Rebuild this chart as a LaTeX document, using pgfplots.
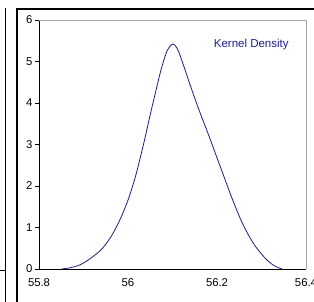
\documentclass[border=0pt]{standalone}
\usepackage{fontspec}
\setmainfont{Liberation Sans}
\usepackage{pgfplots}
\pgfplotsset{compat=1.18}
\definecolor{curveblue}{RGB}{28,28,150}
\definecolor{axgrey}{RGB}{165,165,165}
\begin{document}
\begin{tikzpicture}[x=1pt,y=1pt]
% fragments of neighbouring panel and outer frame
\draw[black, line width=1pt] (5,0) -- (5,294);
\draw[black, line width=0.8pt] (0,32) -- (5,32);
\draw[black, line width=1.4pt] (17,0) -- (17,293) -- (314,293);
\begin{axis}[
  at={(39pt,33pt)}, anchor=south west,
  scale only axis, width=267pt, height=249pt,
  xmin=55.8, xmax=56.4, ymin=0, ymax=6,
  axis x line*=bottom, axis y line*=left,
  axis line style={black, line width=0.8pt, -},
  xtick={55.8,56,56.2,56.4}, xticklabels={55.8,56,56.2,56.4},
  ytick={0,1,2,3,4,5,6},
  tick align=outside,
  major tick length=4pt,
  tick style={black, line width=0.6pt},
  xtick style={draw=none},
  extra x ticks={56,56.2}, extra x tick labels={},
  extra x tick style={tick style={black,line width=0.6pt}, major tick length=4pt},
  tick label style={font=\fontsize{11.3}{11.3}\selectfont, text=black},
  /pgf/number format/assume math mode=true,
  xticklabel style={yshift=-2pt},
  yticklabel style={xshift=1pt},
  clip=false,
]
\draw[axgrey, line width=0.8pt] (rel axis cs:0,1) -- (rel axis cs:1,1) -- (rel axis cs:1,0);
\addplot[curveblue, line width=0.8pt, smooth, tension=0.5] coordinates {
(55.851,0) (55.87,0.03) (55.892,0.10) (55.915,0.25) (55.941,0.48)
(55.963,0.80) (55.982,1.19) (56.000,1.66) (56.016,2.20) (56.027,2.66)
(56.037,3.10) (56.050,3.72) (56.063,4.31) (56.075,4.83) (56.088,5.26)
(56.101,5.42) (56.112,5.28) (56.125,4.90) (56.143,4.33) (56.160,3.82)
(56.180,3.26) (56.200,2.68) (56.220,2.10) (56.236,1.64) (56.258,1.08)
(56.281,0.63) (56.300,0.36) (56.315,0.19) (56.330,0.07) (56.346,0)
};
\node[anchor=west, text=curveblue, font=\fontsize{11.5}{11.5}\selectfont, inner sep=0pt] at (axis cs:56.1925,5.4) {Kernel Density};
\end{axis}
\pgfresetboundingbox
\useasboundingbox (0,0) rectangle (314,302);
\end{tikzpicture}
\end{document}
